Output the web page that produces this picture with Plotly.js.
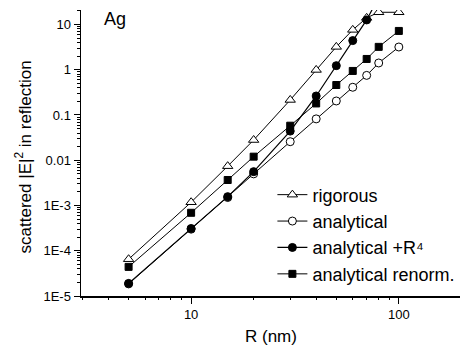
<!DOCTYPE html>
<html>
<head>
<meta charset="utf-8">
<script src="https://cdn.plot.ly/plotly-3.0.1.min.js"></script>
<style>html,body{margin:0;padding:0;background:#fff;}#chart{width:463px;height:349px;}</style>
</head>
<body>
<div id="chart"></div>
<script>
// Data
const R = [5, 10, 15, 20, 30, 40, 50, 60, 70, 80, 100];
const rigorous = [6.5e-5, 1.18e-3, 7.4e-3, 0.028, 0.215, 0.99, 3.2, 7.6, 14, 18.6, 18.6];
const analytical = [1.85e-5, 3.0e-4, 1.5e-3, 5.0e-3, 0.0257, 0.082, 0.204, 0.41, 0.75, 1.41, 3.18];
const R_R4 = [5, 10, 15, 20, 30, 40, 50, 60, 70, 80];
const analyticalR4 = [1.9e-5, 3.1e-4, 1.57e-3, 5.6e-3, 0.044, 0.263, 1.23, 4.4, 12.6, 40];
const renorm = [4.4e-5, 6.9e-4, 3.66e-3, 0.012, 0.058, 0.18, 0.46, 0.94, 1.73, 3.2, 7.2];

const names = ['rigorous', 'analytical', 'analytical +R\u2074', 'analytical renorm.'];
const yTickVals = [1e-5, 1e-4, 1e-3, 0.01, 0.1, 1, 10];
const yTickText = ['1E-5', '1E-4', '1E-3', '0.01', '0.1', '1', '10'];
const xTickVals = [10, 100];
const xTickText = ['10', '100'];
const yTitle = 'scattered |E|<sup>2</sup> in reflection';
const xTitle = 'R (nm)';
const panelLabel = 'Ag';

const FONT = 'Arial, "Liberation Sans", Helvetica, sans-serif';
const xRange = [Math.log10(2.95), Math.log10(197)];
const yRange = [-5, 1.32];

function minorTicks(lo, hi) {
  const out = [];
  for (let e = lo; e <= hi; e++) {
    for (let m = 2; m <= 9; m++) out.push(m * Math.pow(10, e));
  }
  return out;
}

const line = {color: '#000', width: 1};
const traces = [
  {x: R, y: rigorous, name: names[0], mode: 'lines+markers', line: line,
   marker: {symbol: 'triangle-up', size: 9, color: '#fff', line: {color: '#000', width: 1}}},
  {x: R, y: analytical, name: names[1], mode: 'lines+markers', line: line,
   marker: {symbol: 'circle', size: 8, color: '#fff', line: {color: '#000', width: 1}}},
  {x: R_R4, y: analyticalR4, name: names[2], mode: 'lines+markers', line: {color: '#000', width: 1.2},
   marker: {symbol: 'circle', size: 8, color: '#000', line: {color: '#000', width: 1}}},
  {x: R, y: renorm, name: names[3], mode: 'lines+markers', line: line,
   marker: {symbol: 'square', size: 7, color: '#000', line: {color: '#000', width: 1}}},
  // invisible helper trace for the minor-tick axes
  {x: [10], y: [1], xaxis: 'x2', yaxis: 'y2', mode: 'markers', marker: {opacity: 0}, showlegend: false, hoverinfo: 'skip'}
];

const layout = {
  width: 463, height: 349,
  margin: {l: 81, r: 3, t: 10, b: 53, autoexpand: false},
  paper_bgcolor: '#fff', plot_bgcolor: '#fff',
  font: {family: FONT, color: '#000', size: 13},
  showlegend: true,
  legend: {x: 0.505, y: 0.418, xanchor: 'left', yanchor: 'top', bgcolor: 'rgba(0,0,0,0)',
           font: {family: FONT, size: 18, color: '#000'}, tracegroupgap: 0},
  xaxis: {type: 'log', range: xRange, showgrid: false, zeroline: false, automargin: false,
          showline: true, linecolor: '#000', linewidth: 1.5,
          ticks: 'outside', ticklen: 6, tickwidth: 1, tickcolor: '#000',
          tickmode: 'array', tickvals: xTickVals, ticktext: xTickText,
          tickfont: {family: FONT, size: 13}},
  yaxis: {type: 'log', range: yRange, showgrid: false, zeroline: false, automargin: false,
          showline: true, linecolor: '#000', linewidth: 1.5,
          ticks: 'outside', ticklen: 6, tickwidth: 1, tickcolor: '#000',
          tickmode: 'array', tickvals: yTickVals, ticktext: yTickText,
          tickfont: {family: FONT, size: 13}},
  xaxis2: {type: 'log', range: xRange, overlaying: 'x', side: 'bottom', anchor: 'y2', automargin: false,
           showgrid: false, zeroline: false, showline: false, showticklabels: false,
           ticks: 'outside', ticklen: 3, tickcolor: '#000', tickmode: 'array', tickvals: minorTicks(0, 2)},
  yaxis2: {type: 'log', range: yRange, overlaying: 'y', side: 'left', anchor: 'x2', automargin: false,
           showgrid: false, zeroline: false, showline: false, showticklabels: false,
           ticks: 'outside', ticklen: 3, tickcolor: '#000', tickmode: 'array', tickvals: minorTicks(-5, 1)},
  annotations: [
    {text: panelLabel, xref: 'paper', yref: 'paper', x: 0.055, y: 0.97, xanchor: 'left', yanchor: 'middle',
     showarrow: false, font: {family: FONT, size: 18, color: '#000'}},
    {text: yTitle, xref: 'paper', yref: 'paper', x: -0.152, y: 0.486, xanchor: 'center', yanchor: 'middle',
     textangle: -90, showarrow: false, font: {family: FONT, size: 17, color: '#000'}},
    {text: xTitle, xref: 'paper', yref: 'paper', x: 0.5, y: -0.14, xanchor: 'center', yanchor: 'middle',
     showarrow: false, font: {family: FONT, size: 17, color: '#000'}}
  ]
};

Plotly.newPlot('chart', traces, layout, {staticPlot: true, displayModeBar: false});
</script>
</body>
</html>
